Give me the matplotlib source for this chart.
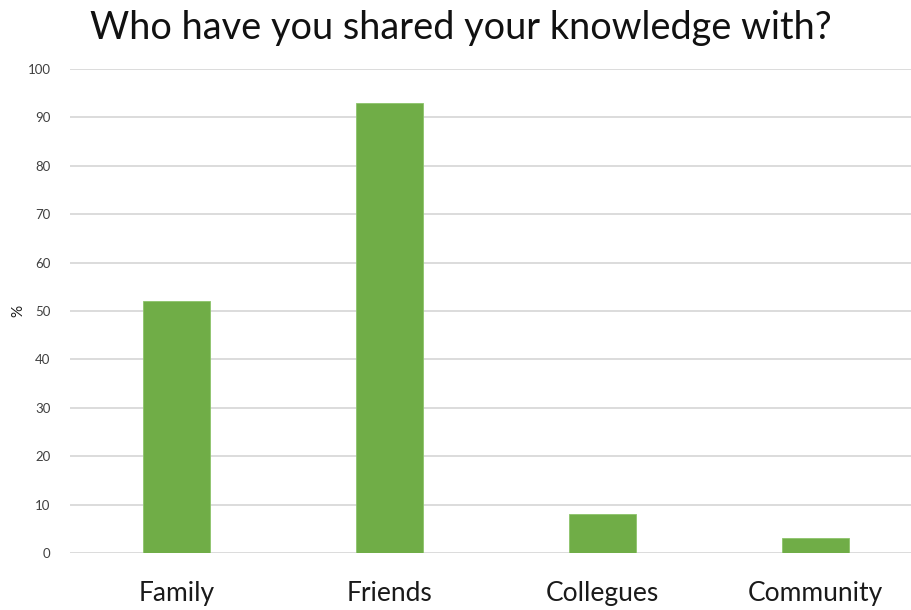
import matplotlib
matplotlib.use("Agg")
import matplotlib.pyplot as plt

categories = ["Family", "Friends", "Collegues", "Community"]
percent = [52, 93, 8, 3]
y_ticks = list(range(0, 101, 10))

plt.rcParams['font.family'] = ['Lato', 'DejaVu Sans']

fig = plt.figure(figsize=(9.12, 6.10), dpi=100)
# axes run a little past the right edge, like the original export
ax = fig.add_axes([70 / 912, (610 - 553) / 610, (922 - 70) / 912, (553 - 69) / 610])

x = range(len(categories))
ax.bar(x, percent, width=0.315, color="#70AD47", edgecolor="#8CC46A", linewidth=0.6, zorder=3)

ax.set_xlim(-0.5, 3.5)
ax.set_ylim(0, 100)
ax.set_yticks(y_ticks)
ax.set_yticklabels([str(t) for t in y_ticks], fontsize=9.5, color="#404040")
ax.set_xticks(list(x))
ax.set_xticklabels(categories, fontsize=19, color="#1a1a1a")
ax.tick_params(axis="both", length=0)
ax.tick_params(axis="y", pad=14)
ax.tick_params(axis="x", pad=20)

ax.grid(axis="y", color="#D9D9D9", linewidth=1.3, zorder=0)
ax.set_axisbelow(True)
for s in ax.spines.values():
    s.set_visible(False)

fig.text(18 / 912, 1 - 311 / 610, "%", rotation=90, ha="center", va="center",
         fontsize=11, color="#1a1a1a")

fig.text(0.505, 1 - 28 / 610, "Who have you shared your knowledge with?", ha="center", va="center",
         fontsize=27.3, color="#111111")

fig.savefig("out.png", dpi=100)
